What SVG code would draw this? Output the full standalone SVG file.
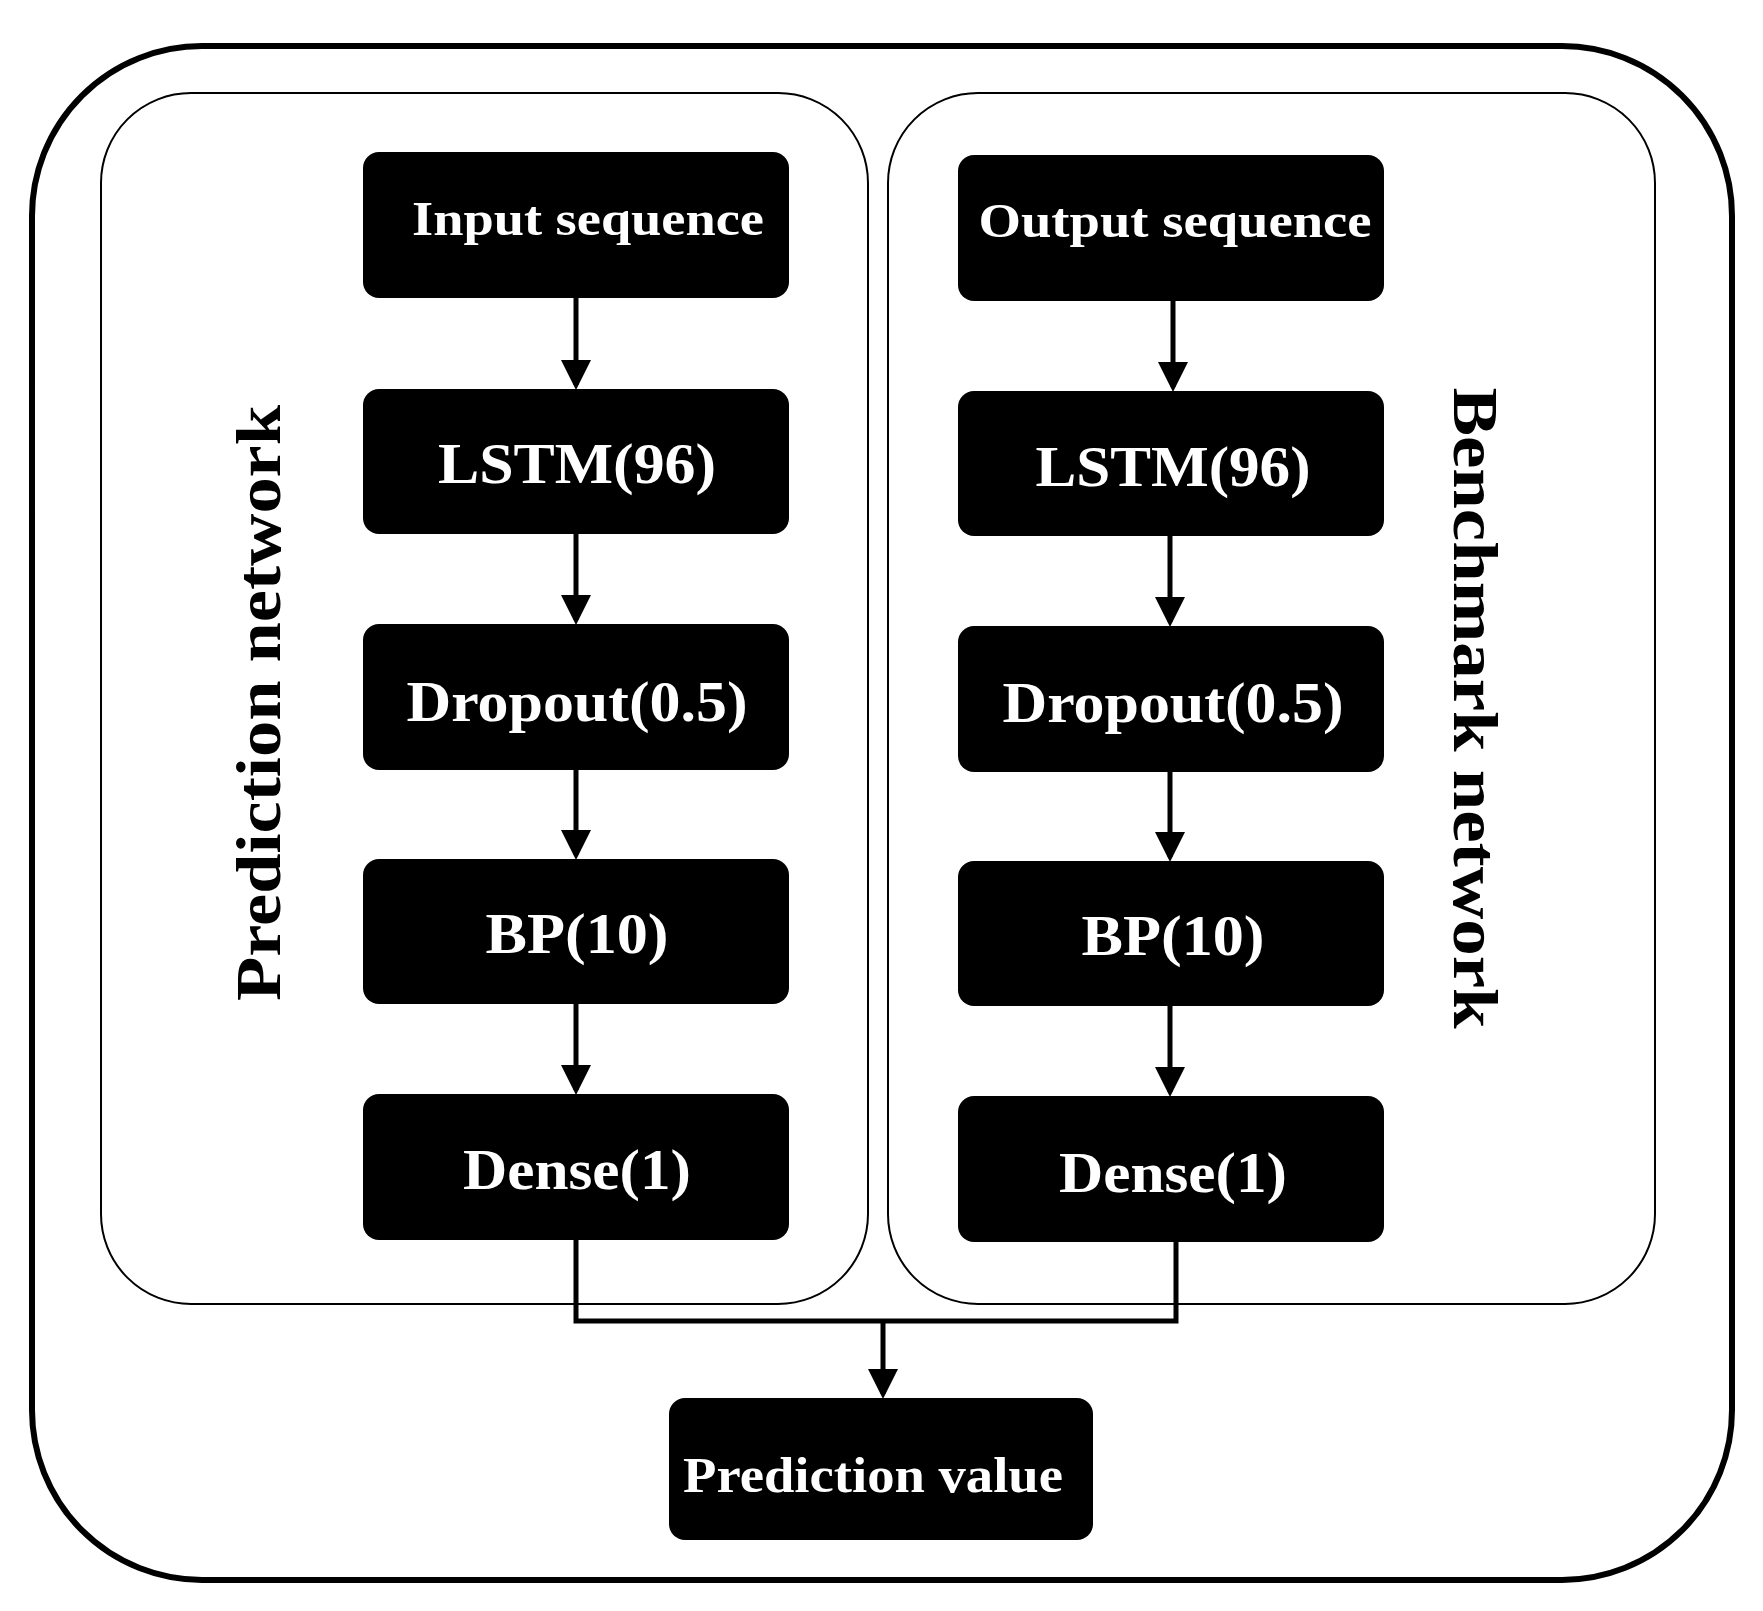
<svg xmlns="http://www.w3.org/2000/svg" width="1763" height="1611" viewBox="0 0 1763 1611">
<style>
.panel{fill:none;stroke:#000;stroke-width:2}
.box{fill:#000}
.t{font-family:"Liberation Serif",serif;font-weight:bold;fill:#fff;text-anchor:middle;dominant-baseline:central}
.v{font-family:"Liberation Serif",serif;font-weight:bold;fill:#000;font-size:64px;text-anchor:middle;dominant-baseline:central}
.c{fill:none;stroke:#000;stroke-width:5}
</style>
<defs><marker id="a" markerWidth="6" markerHeight="6" refX="5" refY="3" orient="auto" markerUnits="strokeWidth"><path d="M0,0L6,3L0,6z" fill="#000"/></marker></defs>
<rect x="32" y="46" width="1700" height="1534" rx="170" fill="#fff" stroke="#000" stroke-width="6"/>
<rect class="panel" x="101" y="93" width="767" height="1211" rx="90"/>
<rect class="panel" x="888" y="93" width="767" height="1211" rx="90"/>
<text class="v" transform="translate(258,703) rotate(-90)" textLength="596" lengthAdjust="spacingAndGlyphs">Prediction network</text>
<text class="v" transform="translate(1475,708) rotate(90)" textLength="641" lengthAdjust="spacingAndGlyphs">Benchmark network</text>
<g id="connectors">
<path class="c" marker-end="url(#a)" d="M576,298V385"/>
<path class="c" marker-end="url(#a)" d="M576,534V620"/>
<path class="c" marker-end="url(#a)" d="M576,770V855"/>
<path class="c" marker-end="url(#a)" d="M576,1004V1090"/>
<path class="c" marker-end="url(#a)" d="M1173,301V387"/>
<path class="c" marker-end="url(#a)" d="M1170,536V622"/>
<path class="c" marker-end="url(#a)" d="M1170,772V857"/>
<path class="c" marker-end="url(#a)" d="M1170,1006V1092"/>
<path class="c" d="M576,1240V1321H1176V1242"/>
<path class="c" marker-end="url(#a)" d="M883,1321V1394"/>
</g>
<g id="n1"><rect class="box" x="363" y="152" width="426" height="146" rx="16"/><text class="t" x="588" y="218" font-size="48" textLength="352" lengthAdjust="spacingAndGlyphs">Input sequence</text></g>
<g id="n2"><rect class="box" x="363" y="389" width="426" height="145" rx="16"/><text class="t" x="577" y="463" font-size="58" textLength="278" lengthAdjust="spacingAndGlyphs">LSTM(96)</text></g>
<g id="n3"><rect class="box" x="363" y="624" width="426" height="146" rx="16"/><text class="t" x="577" y="702" font-size="56" textLength="341" lengthAdjust="spacingAndGlyphs">Dropout(0.5)</text></g>
<g id="n4"><rect class="box" x="363" y="859" width="426" height="145" rx="16"/><text class="t" x="577" y="934" font-size="56" textLength="183" lengthAdjust="spacingAndGlyphs">BP(10)</text></g>
<g id="n5"><rect class="box" x="363" y="1094" width="426" height="146" rx="16"/><text class="t" x="577" y="1170" font-size="56" textLength="228" lengthAdjust="spacingAndGlyphs">Dense(1)</text></g>
<g id="m1"><rect class="box" x="958" y="155" width="426" height="146" rx="16"/><text class="t" x="1175" y="220" font-size="48" textLength="393" lengthAdjust="spacingAndGlyphs">Output sequence</text></g>
<g id="m2"><rect class="box" x="958" y="391" width="426" height="145" rx="16"/><text class="t" x="1173" y="466" font-size="58" textLength="275" lengthAdjust="spacingAndGlyphs">LSTM(96)</text></g>
<g id="m3"><rect class="box" x="958" y="626" width="426" height="146" rx="16"/><text class="t" x="1173" y="703" font-size="56" textLength="341" lengthAdjust="spacingAndGlyphs">Dropout(0.5)</text></g>
<g id="m4"><rect class="box" x="958" y="861" width="426" height="145" rx="16"/><text class="t" x="1173" y="936" font-size="56" textLength="183" lengthAdjust="spacingAndGlyphs">BP(10)</text></g>
<g id="m5"><rect class="box" x="958" y="1096" width="426" height="146" rx="16"/><text class="t" x="1173" y="1173" font-size="56" textLength="228" lengthAdjust="spacingAndGlyphs">Dense(1)</text></g>
<g id="out"><rect class="box" x="669" y="1398" width="424" height="142" rx="16"/><text class="t" x="873" y="1475" font-size="50" textLength="380" lengthAdjust="spacingAndGlyphs">Prediction value</text></g>
</svg>
